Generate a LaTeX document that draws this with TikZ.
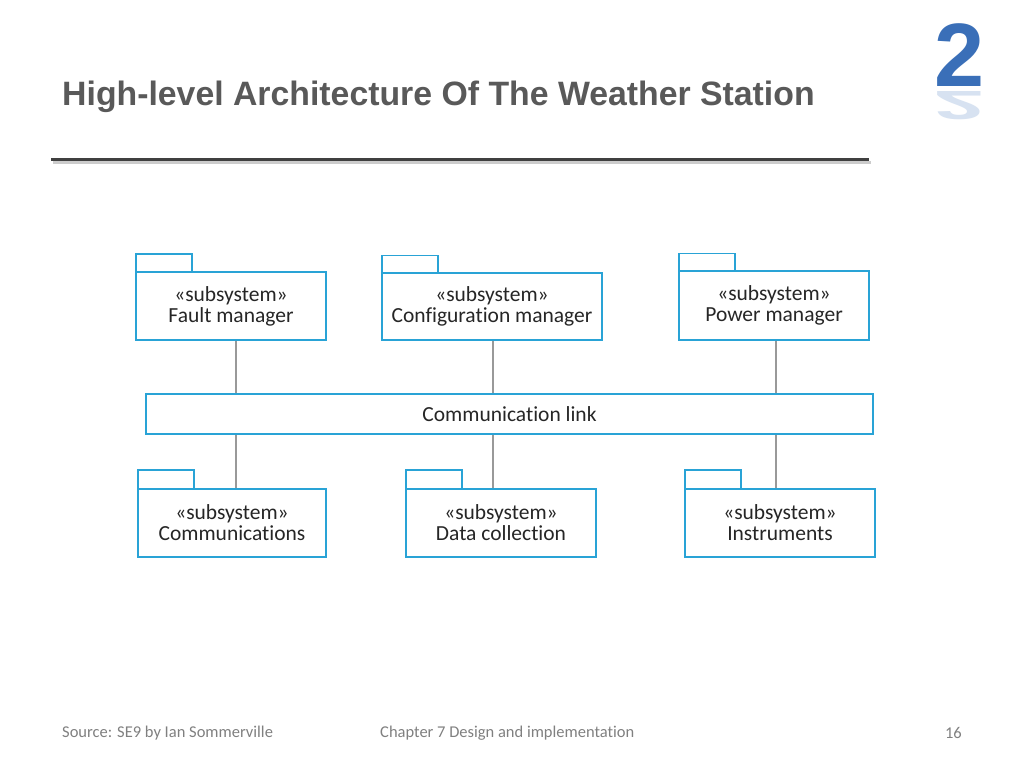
\documentclass[tikz,border=0pt]{standalone}
\usepackage{fontspec}
\setmainfont[Ligatures=NoCommon]{Carlito}
\newfontfamily\arialb{Liberation Sans}
\begin{document}
\begin{tikzpicture}[x=1pt,y=-1pt,
  pkg/.style={draw=boxblue,line width=1.6pt,fill=white,minimum height=68pt,align=center,font=\fontsize{21.5}{21}\selectfont,text=black!85,inner sep=0pt},
  tab/.style={draw=boxblue,line width=1.6pt,fill=white,minimum width=56pt,minimum height=18pt,inner sep=0pt},
  link/.style={draw=gray!80,line width=1.2pt}]
\definecolor{boxblue}{HTML}{29A3D6}
\definecolor{titlegray}{HTML}{595959}
\definecolor{logoblue}{HTML}{3A6FB8}
\useasboundingbox (0,0) rectangle (1024,768);
\fill[white] (0,0) rectangle (1024,768);
% title
\node[anchor=west,font=\arialb\bfseries\fontsize{33.8}{34}\selectfont,text=titlegray,inner sep=0pt] (title) at (62,97) {High-level Architecture Of The Weather Station};
\draw[line width=3pt,gray!40] (53,162) -- (871,162);
\draw[line width=3pt,black!75] (51,159) -- (869,159);
% logo
\node[font=\arialb\bfseries\fontsize{90}{90}\selectfont,text=logoblue,inner sep=0pt] (logo) at (960,55) {2};
\node[font=\arialb\bfseries\fontsize{90}{90}\selectfont,text=logoblue!20,yscale=-0.45,inner sep=0pt] (logor) at (960,106) {2};
% links
\coordinate (l1) at (236,340); \coordinate (l2) at (493,340); \coordinate (l3) at (776,340);
% top packages
\node[tab] (t1) at (164,263) {};
\node[pkg,minimum width=190pt] (fm) at (231,306) {«subsystem»\\Fault manager};
\node[tab] (t2) at (410,264.5) {};
\node[pkg,minimum width=220pt,minimum height=67pt] (cm) at (492,306.5) {«subsystem»\\Configuration manager};
\node[tab] (t3) at (707,262.5) {};
\node[pkg,minimum width=190pt,minimum height=69pt] (pm) at (774,305.5) {«subsystem»\\Power manager};
% comm link
\node[pkg,minimum width=727pt,minimum height=40pt] (cl) at (509.5,414) {Communication link};
% bottom packages
\node[tab,minimum height=19pt] (t4) at (166,479.5) {};
\node[pkg,minimum width=188pt] (cs) at (232,523) {«subsystem»\\Communications};
\node[tab,minimum height=19pt] (t5) at (434,479.5) {};
\node[pkg,minimum width=190pt] (dc) at (501,523) {«subsystem»\\Data collection};
\node[tab,minimum height=19pt] (t6) at (713,479.5) {};
\node[pkg,minimum width=190pt] (in) at (780,523) {«subsystem»\\Instruments};
% connectors
\draw[link] (fm.south -| l1) -- (cl.north -| l1);
\draw[link] (cm.south -| l2) -- (cl.north -| l2);
\draw[link] (pm.south -| l3) -- (cl.north -| l3);
\draw[link] (cl.south -| l1) -- (cs.north -| l1);
\draw[link] (cl.south -| l2) -- (dc.north -| l2);
\draw[link] (cl.south -| l3) -- (in.north -| l3);
% footer
\node[anchor=west,font=\fontsize{16.5}{17}\selectfont,text=gray,inner sep=0pt] (src) at (62,733) {Source: SE9 by Ian Sommerville};
\node[anchor=west,font=\fontsize{16.5}{17}\selectfont,text=gray,inner sep=0pt] (ch) at (380,733) {Chapter 7 Design and implementation};
\node[anchor=east,font=\fontsize{16.5}{17}\selectfont,text=gray,inner sep=0pt] (pg) at (962,733) {16};
\end{tikzpicture}
\end{document}
